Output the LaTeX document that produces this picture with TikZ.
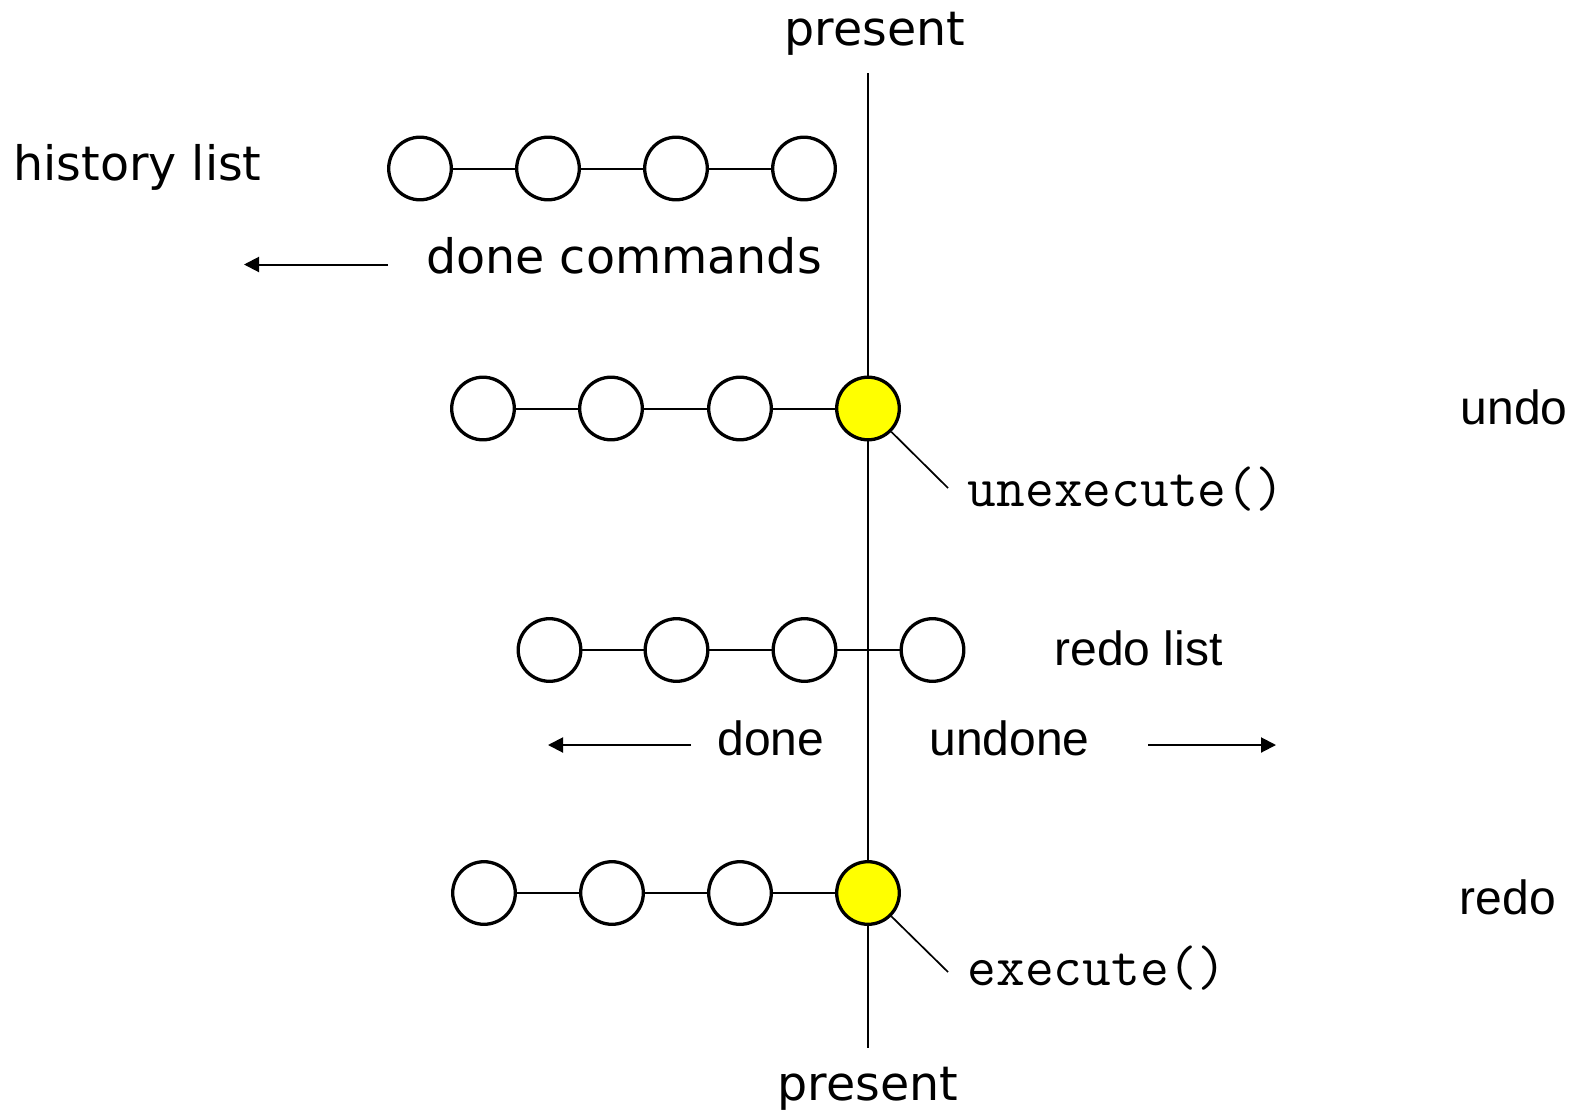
\documentclass[tikz,border=0pt]{standalone}
\usepackage{fontspec}
\usetikzlibrary{arrows.meta}
\newfontfamily\verd{DejaVu Sans}
\newfontfamily\ari{Liberation Sans}
\newfontfamily\cour[FakeStretch=0.98]{Latin Modern Mono}
\definecolor{hilite}{RGB}{255,255,0}
\begin{document}
\begin{tikzpicture}[x=1pt,y=-1pt,
  cmd/.style={circle,draw=black,line width=3.3pt,fill=white,minimum size=62.6pt,inner sep=0pt},
  cur/.style={cmd,fill=hilite},
  link/.style={line width=2pt},
  ptr/.style={line width=1.7pt},
  arr/.style={line width=2pt,-{Triangle[length=15pt,width=15pt]}},
  vtxt/.style={anchor=base,inner sep=0pt,font=\verd\fontsize{47.5}{56}\selectfont},
  atxt/.style={anchor=base,inner sep=0pt,font=\ari\fontsize{48}{56}\selectfont},
  mtxt/.style={anchor=base,inner sep=0pt,font=\cour\fontsize{57}{60}\selectfont}]
\useasboundingbox (0,0) rectangle (1585,1111);
% present line
\coordinate (ptop) at (868,73);
\coordinate (pbot) at (868,1048);
\draw[link] (ptop) -- (pbot);
% row 1
\node[cmd] (a1) at (420,168.5) {};
\node[cmd] (a2) at (548,168.5) {};
\node[cmd] (a3) at (676,168.5) {};
\node[cmd] (a4) at (804,168.5) {};
\draw[link] (a1) -- (a2); \draw[link] (a2) -- (a3); \draw[link] (a3) -- (a4);
% row 2
\node[cmd] (b1) at (483,408.5) {};
\node[cmd] (b2) at (611,408.5) {};
\node[cmd] (b3) at (740,408.5) {};
\node[cur] (b4) at (868,408.5) {};
\draw[link] (b1) -- (b2); \draw[link] (b2) -- (b3); \draw[link] (b3) -- (b4);
% row 3
\node[cmd] (c1) at (549.5,650) {};
\node[cmd] (c2) at (676.5,650) {};
\node[cmd] (c3) at (804.5,650) {};
\node[cmd] (c4) at (932.5,650) {};
\draw[link] (c1) -- (c2); \draw[link] (c2) -- (c3); \draw[link] (c3) -- (c4);
% row 4
\node[cmd] (d1) at (484,893) {};
\node[cmd] (d2) at (612,893) {};
\node[cmd] (d3) at (740,893) {};
\node[cur] (d4) at (868,893) {};
\draw[link] (d1) -- (d2); \draw[link] (d2) -- (d3); \draw[link] (d3) -- (d4);
% pointer lines
\coordinate (bp) at (948,488);
\coordinate (dp) at (948,972);
\draw[ptr] (b4.-45) -- (bp);
\draw[ptr] (d4.-45) -- (dp);
% arrows
\coordinate (h1) at (388,264.5);
\coordinate (h2) at (244,264.5);
\draw[arr] (h1) -- (h2);
\coordinate (l1) at (691,745);
\coordinate (l2) at (548,745);
\draw[arr] (l1) -- (l2);
\coordinate (r1) at (1148,745);
\coordinate (r2) at (1276,745);
\draw[arr] (r1) -- (r2);
% texts
\node[vtxt] (tpres) at (875,45) {present};
\node[vtxt] (thist) at (137.5,180) {history list};
\node[vtxt] (tdone) at (624,273) {done commands};
\node[vtxt] (bpres) at (868,1100) {present};
\node[atxt] (tundo) at (1514,424) {undo};
\node[atxt] (tredo) at (1508,914) {redo};
\node[atxt] (tredol) at (1138.5,665) {redo list};
\node[atxt] (tdn) at (771,755) {done};
\node[atxt] (tundn) at (1009.5,755) {undone};
\node[mtxt] (tunex) at (1126,506) {unexecute()};
\node[mtxt] (texec) at (1097,985) {execute()};
\end{tikzpicture}
\end{document}
